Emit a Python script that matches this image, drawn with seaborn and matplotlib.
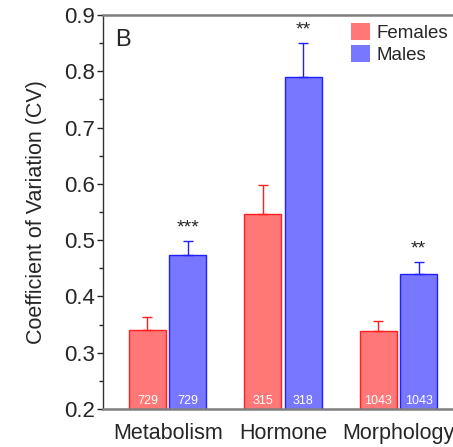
import matplotlib
matplotlib.use("Agg")
import matplotlib.pyplot as plt
import seaborn as sns
import pandas as pd
import numpy as np

categories = ["Metabolism", "Hormone", "Morphology"]
sexes = ["Females", "Males"]
females_cv = [0.341, 0.546, 0.339]
males_cv = [0.474, 0.790, 0.440]
females_err = [0.022, 0.052, 0.017]
males_err = [0.025, 0.060, 0.022]
females_n = ["729", "315", "1043"]
males_n = ["729", "318", "1043"]
signif = ["***", "**", "**"]

sns.set_style("ticks")
plt.rcParams['font.family'] = ['Liberation Sans', 'DejaVu Sans']

df = pd.DataFrame({
    "category": categories * 2,
    "sex": ["Females"] * 3 + ["Males"] * 3,
    "cv": females_cv + males_cv,
})

fig = plt.figure(figsize=(4.53, 4.47), dpi=100)
ax = fig.add_axes([103/453, 38/447, 1.02 - 103/453, (409-15)/447])

palette = {"Females": "#FF7777", "Males": "#7777FF"}
edges = {"Females": "#FF2020", "Males": "#2020FF"}
sns.barplot(data=df, x="category", y="cv", hue="sex", order=categories,
            hue_order=sexes, palette=palette, width=0.7, gap=0.08,
            errorbar=None, ax=ax, saturation=1, linewidth=1.0)

errs = {"Females": females_err, "Males": males_err}
vals = {"Females": females_cv, "Males": males_cv}
ns = {"Females": females_n, "Males": males_n}
for sex, cont in zip(sexes, ax.containers):
    for i, bar in enumerate(cont):
        bar.set_edgecolor(edges[sex])
        xc = bar.get_x() + bar.get_width() / 2
        ax.errorbar(xc, vals[sex][i], yerr=[[0], [errs[sex][i]]], fmt="none",
                    ecolor=edges[sex], elinewidth=1.0, capsize=3.3, capthick=1.0)
        ax.text(xc, 0.203, ns[sex][i], color="white", ha="center", va="bottom",
                fontsize=9)
        if sex == "Males":
            ax.text(xc, vals[sex][i] + errs[sex][i] + 0.008, signif[i],
                    ha="center", va="bottom", fontsize=14)

ax.set_ylim(0.2, 0.9)
ax.set_xlim(-0.56, 2.55)
ax.set_yticks(np.arange(0.2, 0.91, 0.1))
ax.set_yticklabels([f"{v:.1f}" for v in np.arange(0.2, 0.91, 0.1)], fontsize=16)
ax.set_yticks(np.arange(0.25, 0.9, 0.1), minor=True)
ax.tick_params(axis="y", which="major", length=4, width=1, direction="out", pad=2)
ax.tick_params(axis="y", which="minor", length=3, width=1, direction="out")
ax.tick_params(axis="x", length=0, labelsize=15.5, pad=10)
ax.set_xlabel("")
ax.set_ylabel("Coefficient of Variation (CV)", fontsize=15.5, labelpad=12)

for s in ["top", "bottom", "left", "right"]:
    ax.spines[s].set_color("#7f7f7f")
    ax.spines[s].set_linewidth(1.8)
ax.spines["left"].set_color("#333333")
ax.spines["left"].set_linewidth(1.0)
ax.spines["right"].set_visible(False)

ax.text(0.035, 0.965, "B", transform=ax.transAxes, fontsize=17, va="top", ha="left")

leg = ax.legend(loc="upper left", bbox_to_anchor=(351/453, 1 - 23/447),
                bbox_transform=fig.transFigure, frameon=False, fontsize=13.5,
                handlelength=1.0, handleheight=1.05, handletextpad=0.35,
                labelspacing=0.15, borderaxespad=0, borderpad=0)
for h in leg.legend_handles:
    h.set_edgecolor("none")

fig.savefig("out.png", dpi=100)
